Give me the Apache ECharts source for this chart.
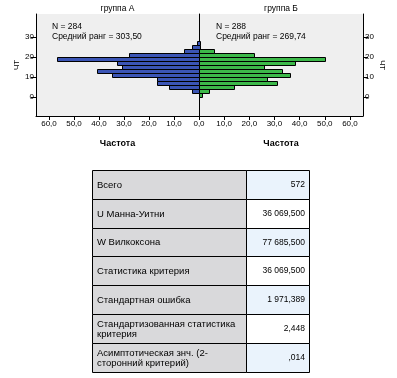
<!DOCTYPE html>
<html>
<head>
<meta charset="utf-8">
<script src="https://cdn.jsdelivr.net/npm/echarts@6/dist/echarts.min.js"></script>
<style>
html, body { margin: 0; padding: 0; background: #fff; }
#chart { width: 397px; height: 378px; }
</style>
</head>
<body>
<div id="chart"></div>
<script>
// histogram bins (lower edge of each bin, width 2)
var binStarts = [0, 2, 4, 6, 8, 10, 12, 14, 16, 18, 20, 22, 24, 26];
var groupA = [0, 3, 12, 17, 17, 35, 41, 31, 33, 57, 28, 6, 3, 1];
var groupB = [1, 4, 14, 31, 27, 36, 33, 26, 38, 50, 22, 6, 0, 0];
var xTicks = [0, 10, 20, 30, 40, 50, 60];
var yTicks = [0, 10, 20, 30];
var panelTitles = ['группа А', 'группа Б'];
var notesA = ['N = 284', 'Средний ранг = 303,50'];
var notesB = ['N = 288', 'Средний ранг = 269,74'];

var tableLabels = [
    'Всего',
    'U Манна-Уитни',
    'W Вилкоксона',
    'Статистика критерия',
    'Стандартная ошибка',
    'Стандартизованная статистика\nкритерия',
    'Асимптотическая знч. (2-\nсторонний критерий)'
];
var tableValues = ['572', '36 069,500', '77 685,500', '36 069,500', '1 971,389', '2,448', ',014'];

var FONT = '"Liberation Sans", Arial, sans-serif';
var chart = echarts.init(document.getElementById('chart'));

function fmt(v) {
    return v.toFixed(1).replace('.', ',');
}

function histItem(color) {
    return function (params, api) {
        var y0 = api.value(0);
        var v = api.value(1);
        var a = api.coord([0, y0]);
        var b = api.coord([v, y0 + 2]);
        var x = Math.round(Math.min(a[0], b[0])) + 0.5;
        var w = Math.round(Math.abs(b[0] - a[0]));
        var top = Math.round(b[1]) + 0.5;
        var h = Math.round(a[1] - b[1]);
        return {
            type: 'rect',
            shape: { x: x, y: top, width: w, height: h },
            style: { fill: color, stroke: '#000', lineWidth: 1 }
        };
    };
}

function xAxisFor(idx, inverse, labelValues) {
    return {
        gridIndex: idx, type: 'value', min: 0, max: 65.2, inverse: inverse,
        name: 'Частота', nameLocation: 'middle', nameGap: 23,
        nameTextStyle: { fontFamily: FONT, fontSize: 9, fontWeight: 'bold', color: '#000' },
        axisLine: { show: true, onZero: false, lineStyle: { color: '#000', width: 1 } },
        axisTick: { show: true, length: 4, customValues: xTicks, lineStyle: { color: '#000' } },
        axisLabel: { customValues: labelValues, margin: 4, fontFamily: FONT, fontSize: 8, color: '#000', formatter: fmt },
        splitLine: { show: false }
    };
}

function yAxisFor(idx, position, showLabels, rotate) {
    return {
        gridIndex: idx, type: 'value', min: -9.4, max: 41.6, position: position,
        name: showLabels ? 'ЧТ' : '', nameLocation: 'middle', nameGap: 14, nameRotate: rotate,
        nameTextStyle: { fontFamily: FONT, fontSize: 8, color: '#000' },
        axisLine: { show: true, onZero: false, lineStyle: { color: '#000', width: 1 } },
        axisTick: { show: showLabels, length: 5, customValues: yTicks, lineStyle: { color: '#000' } },
        axisLabel: { show: showLabels, customValues: yTicks, margin: 2, fontFamily: FONT, fontSize: 8, color: '#000' },
        splitLine: { show: false }
    };
}

// table drawn as graphic cells
var tLeft = 92, tMid = 246, tRight = 309, tTop = 170, rowH = 28.8;
var graphics = [];
tableLabels.forEach(function (lab, i) {
    var y = Math.round(tTop + i * rowH) + 0.5;
    var h = Math.round(tTop + (i + 1) * rowH) - Math.round(tTop + i * rowH);
    graphics.push({
        type: 'rect', shape: { x: tLeft + 0.5, y: y, width: tMid - tLeft, height: h },
        style: { fill: '#d9d9db', stroke: '#000', lineWidth: 1 }
    });
    graphics.push({
        type: 'rect', shape: { x: tMid + 0.5, y: y, width: tRight - tMid, height: h },
        style: { fill: i % 2 === 0 ? '#eaf3fc' : '#ffffff', stroke: '#000', lineWidth: 1 }
    });
    graphics.push({
        type: 'text', x: tLeft + 5, y: y + h / 2,
        style: { text: lab, fontFamily: FONT, fontSize: 9.5, fill: '#000', verticalAlign: 'middle', lineHeight: 10 }
    });
    graphics.push({
        type: 'text', x: tRight - 4, y: y + h / 2,
        style: { text: tableValues[i], fontFamily: FONT, fontSize: 8.5, fill: '#000', align: 'right', verticalAlign: 'middle' }
    });
});

// panel titles and notes
[117.5, 281].forEach(function (cx, i) {
    graphics.push({
        type: 'text', x: cx, y: 9,
        style: { text: panelTitles[i], fontFamily: FONT, fontSize: 8.5, fill: '#000', align: 'center', verticalAlign: 'middle' }
    });
});
[[52, notesA], [216, notesB]].forEach(function (n) {
    graphics.push({
        type: 'text', x: n[0], y: 22,
        style: { text: n[1].join('\n'), fontFamily: FONT, fontSize: 8.5, lineHeight: 10, fill: '#000' }
    });
});

chart.setOption({
    animation: false,
    grid: [
        { left: 36, top: 14, width: 163, height: 102, show: true, backgroundColor: '#efefef', borderWidth: 0 },
        { left: 199, top: 14, width: 164, height: 102, show: true, backgroundColor: '#efefef', borderWidth: 0 }
    ],
    xAxis: [
        xAxisFor(0, true, xTicks),
        xAxisFor(1, false, xTicks.slice(1))
    ],
    yAxis: [
        yAxisFor(0, 'left', true, 90),
        yAxisFor(1, 'right', true, -90),
        yAxisFor(0, 'right', false, 90)
    ],
    series: [
        {
            type: 'custom', xAxisIndex: 0, yAxisIndex: 0,
            encode: { x: 1, y: 0 },
            renderItem: histItem('#3b55b5'),
            data: binStarts.map(function (b, i) { return [b, groupA[i]]; }).filter(function (d) { return d[1] > 0; })
        },
        {
            type: 'custom', xAxisIndex: 1, yAxisIndex: 1,
            encode: { x: 1, y: 0 },
            renderItem: histItem('#3db94a'),
            data: binStarts.map(function (b, i) { return [b, groupB[i]]; }).filter(function (d) { return d[1] > 0; })
        }
    ],
    graphic: graphics
});
</script>
</body>
</html>
